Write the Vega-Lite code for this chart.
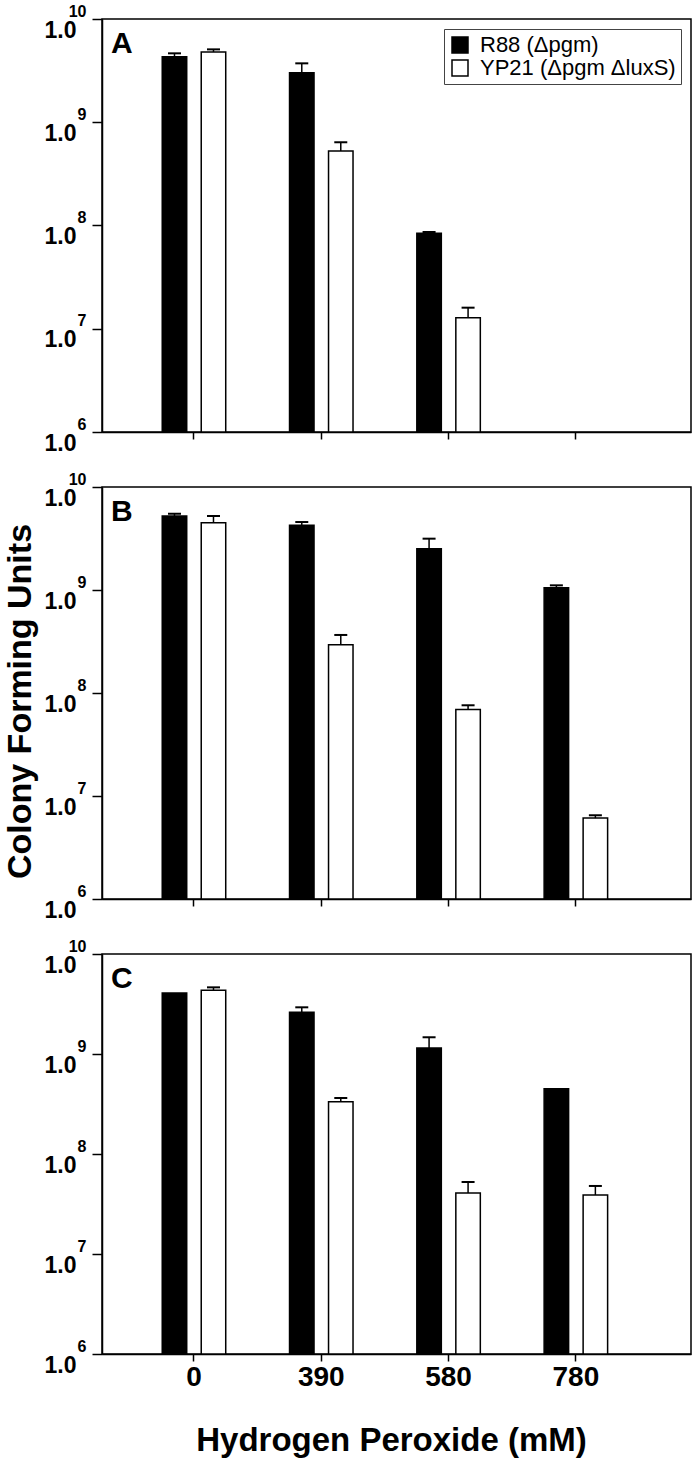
{
  "$schema": "https://vega.github.io/schema/vega-lite/v6.json",
  "padding": {"left": 2, "top": 2, "right": 2, "bottom": 2},
  "background": "white",
  "config": {
    "font": "Liberation Sans",
    "view": {"stroke": "black", "strokeWidth": 1.5},
    "axis": {"domainColor": "black", "tickColor": "black", "grid": false, "labelFont": "Liberation Sans", "titleFont": "Liberation Sans", "labelColor": "black", "titleColor": "black", "domainWidth": 1.5, "tickWidth": 1.5}
  },
  "data": {"values": [
    {"panel": "A", "dose": "0", "strain": "R88", "value": 4.3e9, "upper": 4.65e9},
    {"panel": "A", "dose": "0", "strain": "YP21", "value": 4.8e9, "upper": 5.08e9},
    {"panel": "A", "dose": "390", "strain": "R88", "value": 3.02e9, "upper": 3.72e9},
    {"panel": "A", "dose": "390", "strain": "YP21", "value": 5.27e8, "upper": 6.4e8},
    {"panel": "A", "dose": "580", "strain": "R88", "value": 8.4e7, "upper": 8.65e7},
    {"panel": "A", "dose": "580", "strain": "YP21", "value": 1.28e7, "upper": 1.6e7},
    {"panel": "B", "dose": "0", "strain": "R88", "value": 5.23e9, "upper": 5.5e9},
    {"panel": "B", "dose": "0", "strain": "YP21", "value": 4.5e9, "upper": 5.23e9},
    {"panel": "B", "dose": "390", "strain": "R88", "value": 4.25e9, "upper": 4.57e9},
    {"panel": "B", "dose": "390", "strain": "YP21", "value": 2.94e8, "upper": 3.66e8},
    {"panel": "B", "dose": "580", "strain": "R88", "value": 2.52e9, "upper": 3.15e9},
    {"panel": "B", "dose": "580", "strain": "YP21", "value": 6.9e7, "upper": 7.6e7},
    {"panel": "B", "dose": "780", "strain": "R88", "value": 1.05e9, "upper": 1.11e9},
    {"panel": "B", "dose": "780", "strain": "YP21", "value": 6.1e6, "upper": 6.5e6},
    {"panel": "C", "dose": "0", "strain": "R88", "value": 4.07e9, "upper": null},
    {"panel": "C", "dose": "0", "strain": "YP21", "value": 4.33e9, "upper": 4.64e9},
    {"panel": "C", "dose": "390", "strain": "R88", "value": 2.61e9, "upper": 2.93e9},
    {"panel": "C", "dose": "390", "strain": "YP21", "value": 3.33e8, "upper": 3.63e8},
    {"panel": "C", "dose": "580", "strain": "R88", "value": 1.15e9, "upper": 1.47e9},
    {"panel": "C", "dose": "580", "strain": "YP21", "value": 4.07e7, "upper": 5.25e7},
    {"panel": "C", "dose": "780", "strain": "R88", "value": 4.5e8, "upper": null},
    {"panel": "C", "dose": "780", "strain": "YP21", "value": 3.89e7, "upper": 4.79e7}
  ]},
  "spacing": 55,
  "bounds": "flush",
  "resolve": {"scale": {"fill": "independent", "x": "independent", "y": "independent"}, "legend": {"fill": "independent"}},
  "vconcat": [
    {
      "width": 589, "height": 413,
      "title": {"text": "A", "anchor": "start", "frame": "group", "fontSize": 30, "fontWeight": "bold", "dx": 9, "offset": -56, "baseline": "top", "color": "black"},
      "transform": [{"filter": "datum.panel == 'A'"}],
      "encoding": {
        "x": {"field": "dose", "type": "nominal", "scale": {"domain": ["0", "390", "580", "780"], "paddingInner": 0, "paddingOuter": 0.3135, "align": 0.355}, "axis": {"labels": false, "title": null, "tickSize": 7}},
        "xOffset": {"field": "strain", "type": "nominal", "scale": {"domain": ["R88", "YP21"], "paddingInner": 0.372, "paddingOuter": 0.818}}
      },
      "layer": [
        {"mark": {"type": "bar", "stroke": "black", "strokeWidth": 1.5},
         "encoding": {
           "y": {"field": "value", "type": "quantitative", "scale": {"type": "log", "domain": [1000000, 10000000000]},
                 "axis": {"orient": "left", "values": [1000000, 10000000, 100000000, 1000000000, 10000000000], "labelExpr": "datum.value > 5000000000 ? '1.0\u2009' : '1.0'", "tickSize": 10, "labelPadding": 16, "labelFontSize": 23, "labelFontWeight": "bold", "labelOffset": 11, "labelBaseline": "middle", "labelFlush": false, "labelOverlap": false, "labelBound": false, "title": null}},
           "y2": {"datum": 1000000},
           "fill": {"field": "strain", "type": "nominal", "scale": {"domain": ["R88", "YP21"], "range": ["black", "white"]},
                    "legend": {"title": null, "orient": "top-right", "offset": 10, "symbolType": "square", "symbolSize": 256, "symbolStrokeColor": "black", "symbolStrokeWidth": 1.5, "labelFontSize": 22, "labelFont": "Liberation Sans", "labelColor": "black", "labelOffset": 9, "strokeColor": "#444", "fillColor": "white", "padding": 5, "rowPadding": 1, "labelLimit": 400, "labelExpr": "datum.label == 'R88' ? 'R88 (Δpgm)' : 'YP21 (Δpgm ΔluxS)'"}}
         }},
        {"transform": [{"filter": "isValid(datum.upper)"}],
         "mark": {"type": "rule", "strokeWidth": 1.5, "color": "black"},
         "encoding": {"y": {"field": "value", "type": "quantitative", "scale": {"type": "log", "domain": [1000000, 10000000000]}, "axis": null}, "y2": {"field": "upper"}}},
        {"transform": [{"filter": "isValid(datum.upper)"}],
         "mark": {"type": "tick", "thickness": 2, "size": 13, "color": "black", "opacity": 1},
         "encoding": {"y": {"field": "upper", "type": "quantitative", "scale": {"type": "log", "domain": [1000000, 10000000000]},
                 "axis": {"orient": "left", "values": [1000000, 10000000, 100000000, 1000000000, 10000000000], "labelExpr": "'' + round(log(datum.value)/LN10)", "ticks": false, "tickSize": 0, "domain": false, "labelPadding": 16, "labelFontSize": 16, "labelFontWeight": "bold", "labelOffset": -8, "labelBaseline": "middle", "labelFlush": false, "labelOverlap": false, "labelBound": false, "title": null}}}}
      ],
      "resolve": {"axis": {"y": "independent"}}
    },
    {
      "width": 589, "height": 412,
      "title": {"text": "B", "anchor": "start", "frame": "group", "fontSize": 30, "fontWeight": "bold", "dx": 9, "offset": -56, "baseline": "top", "color": "black"},
      "transform": [{"filter": "datum.panel == 'B'"}],
      "encoding": {
        "x": {"field": "dose", "type": "nominal", "scale": {"domain": ["0", "390", "580", "780"], "paddingInner": 0, "paddingOuter": 0.3135, "align": 0.355}, "axis": {"labels": false, "title": null, "tickSize": 7}},
        "xOffset": {"field": "strain", "type": "nominal", "scale": {"domain": ["R88", "YP21"], "paddingInner": 0.372, "paddingOuter": 0.818}}
      },
      "layer": [
        {"mark": {"type": "bar", "stroke": "black", "strokeWidth": 1.5},
         "encoding": {
           "y": {"field": "value", "type": "quantitative", "scale": {"type": "log", "domain": [1000000, 10000000000]},
                 "axis": {"orient": "left", "values": [1000000, 10000000, 100000000, 1000000000, 10000000000], "labelExpr": "datum.value > 5000000000 ? '1.0\u2009' : '1.0'", "tickSize": 10, "labelPadding": 16, "labelFontSize": 23, "labelFontWeight": "bold", "labelOffset": 11, "labelBaseline": "middle", "labelFlush": false, "labelOverlap": false, "labelBound": false, "title": "Colony Forming Units", "titleFontSize": 34, "titleFontWeight": "bold", "titlePadding": 7, "titleY": 214}},
           "y2": {"datum": 1000000},
           "fill": {"field": "strain", "type": "nominal", "scale": {"domain": ["R88", "YP21"], "range": ["black", "white"]}, "legend": null}
         }},
        {"transform": [{"filter": "isValid(datum.upper)"}],
         "mark": {"type": "rule", "strokeWidth": 1.5, "color": "black"},
         "encoding": {"y": {"field": "value", "type": "quantitative", "scale": {"type": "log", "domain": [1000000, 10000000000]}, "axis": null}, "y2": {"field": "upper"}}},
        {"transform": [{"filter": "isValid(datum.upper)"}],
         "mark": {"type": "tick", "thickness": 2, "size": 13, "color": "black", "opacity": 1},
         "encoding": {"y": {"field": "upper", "type": "quantitative", "scale": {"type": "log", "domain": [1000000, 10000000000]},
                 "axis": {"orient": "left", "values": [1000000, 10000000, 100000000, 1000000000, 10000000000], "labelExpr": "'' + round(log(datum.value)/LN10)", "ticks": false, "tickSize": 0, "domain": false, "labelPadding": 16, "labelFontSize": 16, "labelFontWeight": "bold", "labelOffset": -8, "labelBaseline": "middle", "labelFlush": false, "labelOverlap": false, "labelBound": false, "title": null}}}}
      ],
      "resolve": {"axis": {"y": "independent"}}
    },
    {
      "width": 589, "height": 400,
      "title": {"text": "C", "anchor": "start", "frame": "group", "fontSize": 30, "fontWeight": "bold", "dx": 9, "offset": -56, "baseline": "top", "color": "black"},
      "transform": [{"filter": "datum.panel == 'C'"}],
      "encoding": {
        "x": {"field": "dose", "type": "nominal", "scale": {"domain": ["0", "390", "580", "780"], "paddingInner": 0, "paddingOuter": 0.3135, "align": 0.355}, "axis": {"labelAngle": 0, "labelFontSize": 28, "labelFontWeight": "bold", "labelPadding": 2, "tickSize": 7, "title": "Hydrogen Peroxide (mM)", "titleFontSize": 33, "titleFontWeight": "bold", "titlePadding": 33, "titleX": 289}},
        "xOffset": {"field": "strain", "type": "nominal", "scale": {"domain": ["R88", "YP21"], "paddingInner": 0.372, "paddingOuter": 0.818}}
      },
      "layer": [
        {"mark": {"type": "bar", "stroke": "black", "strokeWidth": 1.5},
         "encoding": {
           "y": {"field": "value", "type": "quantitative", "scale": {"type": "log", "domain": [1000000, 10000000000]},
                 "axis": {"orient": "left", "values": [1000000, 10000000, 100000000, 1000000000, 10000000000], "labelExpr": "datum.value > 5000000000 ? '1.0\u2009' : '1.0'", "tickSize": 10, "labelPadding": 16, "labelFontSize": 23, "labelFontWeight": "bold", "labelOffset": 11, "labelBaseline": "middle", "labelFlush": false, "labelOverlap": false, "labelBound": false, "title": null}},
           "y2": {"datum": 1000000},
           "fill": {"field": "strain", "type": "nominal", "scale": {"domain": ["R88", "YP21"], "range": ["black", "white"]}, "legend": null}
         }},
        {"transform": [{"filter": "isValid(datum.upper)"}],
         "mark": {"type": "rule", "strokeWidth": 1.5, "color": "black"},
         "encoding": {"y": {"field": "value", "type": "quantitative", "scale": {"type": "log", "domain": [1000000, 10000000000]}, "axis": null}, "y2": {"field": "upper"}}},
        {"transform": [{"filter": "isValid(datum.upper)"}],
         "mark": {"type": "tick", "thickness": 2, "size": 13, "color": "black", "opacity": 1},
         "encoding": {"y": {"field": "upper", "type": "quantitative", "scale": {"type": "log", "domain": [1000000, 10000000000]},
                 "axis": {"orient": "left", "values": [1000000, 10000000, 100000000, 1000000000, 10000000000], "labelExpr": "'' + round(log(datum.value)/LN10)", "ticks": false, "tickSize": 0, "domain": false, "labelPadding": 16, "labelFontSize": 16, "labelFontWeight": "bold", "labelOffset": -8, "labelBaseline": "middle", "labelFlush": false, "labelOverlap": false, "labelBound": false, "title": null}}}}
      ],
      "resolve": {"axis": {"y": "independent"}}
    }
  ]
}
